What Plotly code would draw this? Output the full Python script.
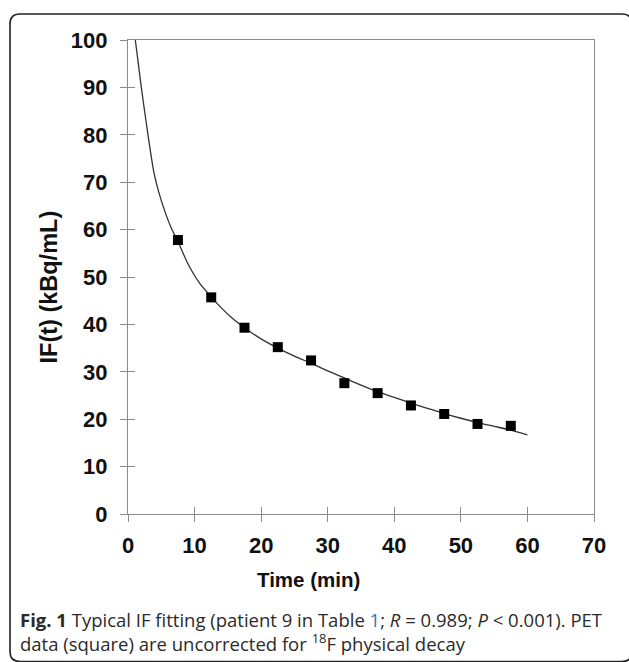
import plotly.graph_objects as go

# PET samples (squares): mid-frame times and activity, kBq/mL
pet_time = [7.5, 12.5, 17.5, 22.5, 27.5, 32.5, 37.5, 42.5, 47.5, 52.5, 57.5]
pet_if = [57.8, 45.7, 39.3, 35.2, 32.4, 27.6, 25.5, 22.9, 21.1, 19.0, 18.6]

# fitted input-function curve, sampled along the fit
fit_time = [1.1, 2.0, 3.0, 3.9, 4.6, 5.5, 6.6, 7.5, 9.0, 10.75, 12.5, 13.8, 15.5,
            17.5, 19.8, 22.5, 25.0, 27.5, 30.0, 32.5, 35.0, 37.5, 40.0, 42.5,
            45.0, 47.5, 50.0, 52.5, 55.0, 57.5, 60.0]
fit_if = [100, 90, 80, 72, 68, 64, 60, 57.5, 52.8, 48.7, 45.8, 43.8, 41.5,
          39.3, 37.1, 35.0, 33.3, 31.8, 30.2, 28.7, 27.2, 25.8, 24.6, 23.4,
          22.3, 21.2, 20.2, 19.3, 18.5, 17.7, 16.7]

x_ticks = [0, 10, 20, 30, 40, 50, 60, 70]
y_ticks = [0, 10, 20, 30, 40, 50, 60, 70, 80, 90, 100]

W, H = 629, 662
ML, MR, MT, MB = 128, 35, 40, 148
PW, PH = W - ML - MR, H - MT - MB


def px(xp):
    return (xp - ML) / PW


def py(yp):
    return (H - MB - yp) / PH


AXIS_GREY = "#8c8c8c"
tick_font = dict(family="Liberation Sans, Arial, sans-serif", size=22,
                 color="#111111", weight="bold")

fig = go.Figure()
fig.add_trace(go.Scatter(
    x=fit_time, y=fit_if, mode="lines",
    line=dict(color="#333333", width=1.3, shape="spline", smoothing=0.7),
    hoverinfo="skip", showlegend=False))
fig.add_trace(go.Scatter(
    x=pet_time, y=pet_if, mode="markers",
    marker=dict(symbol="square", size=10, color="#000000"),
    showlegend=False))
# overlay axes carry the inward half of each tick mark
fig.add_trace(go.Scatter(x=[None], y=[None], xaxis="x2", yaxis="y2",
                         showlegend=False, hoverinfo="skip"))

common = dict(showgrid=False, zeroline=False, ticklen=7, tickwidth=1,
              tickcolor=AXIS_GREY, linecolor=AXIS_GREY, linewidth=1.2)

fig.update_layout(
    width=W, height=H,
    margin=dict(l=ML, r=MR, t=MT, b=MB, pad=0),
    paper_bgcolor="white", plot_bgcolor="white",
    xaxis=dict(range=[0, 70], tickvals=x_ticks, ticks="outside", showline=True,
               mirror=True, tickfont=tick_font, ticklabelstandoff=4, **common),
    yaxis=dict(range=[0, 100], tickvals=y_ticks, ticks="outside", showline=True,
               mirror=True, tickfont=tick_font, ticklabelstandoff=8, **common),
    xaxis2=dict(range=[0, 70], tickvals=x_ticks, ticks="inside", overlaying="x",
                showticklabels=False, showline=False, **common),
    yaxis2=dict(range=[0, 100], tickvals=y_ticks, ticks="inside", overlaying="y",
                showticklabels=False, showline=False, **common),
)

ytitle_font = dict(family="Liberation Sans, Arial, sans-serif", size=23.5,
                   color="#111111", weight="bold")
xtitle_font = dict(family="Liberation Sans, Arial, sans-serif", size=20.5,
                   color="#111111", weight="bold")
cap_font = dict(family="Open Sans, Noto Sans, sans-serif", size=18.5, color="#2a2a2a")

fig.add_annotation(text="IF(t) (kBq/mL)", textangle=-90, font=ytitle_font,
                   xref="paper", yref="paper", x=px(48), y=py(287.5),
                   xanchor="center", yanchor="middle", showarrow=False)
fig.add_annotation(text="Time (min)", font=xtitle_font,
                   xref="paper", yref="paper", x=px(308.5), y=py(579),
                   xanchor="center", yanchor="middle", showarrow=False)
fig.add_annotation(
    text="<b>Fig. 1</b> Typical IF fitting (patient 9 in Table "
         "<span style='color:#2a7ab8'>1</span>; <i>R</i> = 0.989; "
         "<i>P</i> &lt; 0.001). PET<br>"
         "data (square) are uncorrected for <sup>18</sup>F physical decay",
    font=cap_font, xref="paper", yref="paper", x=px(18), y=py(631),
    xanchor="left", yanchor="middle", align="left", showarrow=False)

# rounded frame around the figure
x0, x1, y0, y1, r = 10, 632, 14, 661.5, 10
path = (f"M {px(x0 + r)},{py(y0)} L {px(x1 - r)},{py(y0)} "
        f"Q {px(x1)},{py(y0)} {px(x1)},{py(y0 + r)} "
        f"L {px(x1)},{py(y1 - r)} Q {px(x1)},{py(y1)} {px(x1 - r)},{py(y1)} "
        f"L {px(x0 + r)},{py(y1)} Q {px(x0)},{py(y1)} {px(x0)},{py(y1 - r)} "
        f"L {px(x0)},{py(y0 + r)} Q {px(x0)},{py(y0)} {px(x0 + r)},{py(y0)} Z")
fig.add_shape(type="path", path=path, xref="paper", yref="paper",
              line=dict(color="#222222", width=1.6), layer="above")

fig.write_html("out.html")
